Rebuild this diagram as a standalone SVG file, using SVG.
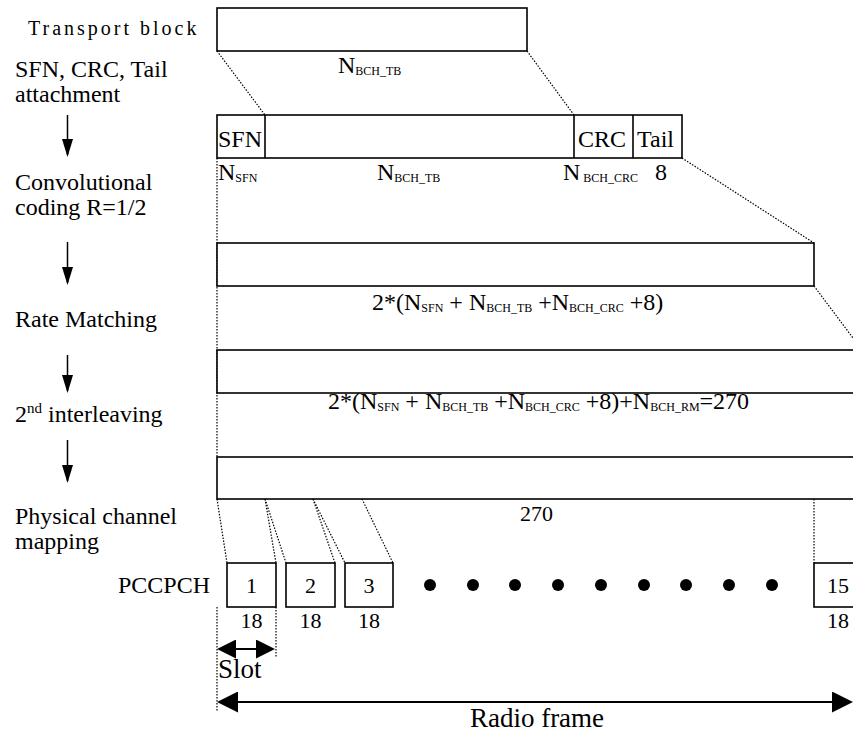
<svg xmlns="http://www.w3.org/2000/svg" width="853" height="735" viewBox="0 0 853 735" font-family="'Liberation Serif','Times New Roman',serif">
<style>
text{font-family:"Liberation Serif","Times New Roman",serif;font-size:24px;fill:#000}
.sub{font-size:12px}
.sm{font-size:22px}
.big{font-size:27px}
.box{fill:#fff;stroke:#000;stroke-width:1.6}
.dot{fill:none;stroke:#000;stroke-width:1.2;stroke-dasharray:1.5 1.5}
.arr{stroke:#000;stroke-width:1.5;fill:none}
.dbl{stroke:#000;stroke-width:2;fill:none}
</style>
<defs>
<marker id="down" markerUnits="userSpaceOnUse" markerWidth="18" markerHeight="11" refX="16" refY="5.5" orient="auto"><path d="M0,0 L18,5.5 L0,11 z" fill="#000"/></marker>
<marker id="hs" markerUnits="userSpaceOnUse" markerWidth="19" markerHeight="19" refX="17" refY="9.5" orient="auto-start-reverse"><path d="M0,0 L19,9.5 L0,19 z" fill="#000"/></marker>
<marker id="hl" markerUnits="userSpaceOnUse" markerWidth="21" markerHeight="21" refX="19" refY="10.5" orient="auto-start-reverse"><path d="M0,0 L21,10.5 L0,21 z" fill="#000"/></marker>
</defs>
<g id="connectors">
<line class="dot" x1="217" y1="51" x2="265" y2="115"/>
<line class="dot" x1="527" y1="51" x2="574" y2="115"/>
<line class="dot" x1="682" y1="158" x2="814" y2="243"/>
<line class="dot" x1="814" y1="286" x2="862" y2="350"/>
<line class="dot" x1="217" y1="158" x2="217" y2="457"/>
<line class="dot" x1="217" y1="499" x2="227" y2="563"/>
<line class="dot" x1="265" y1="499" x2="276" y2="563"/>
<line class="dot" x1="265" y1="499" x2="286" y2="563"/>
<line class="dot" x1="313" y1="499" x2="335" y2="563"/>
<line class="dot" x1="313" y1="499" x2="345" y2="563"/>
<line class="dot" x1="362" y1="499" x2="393" y2="563"/>
<line class="dot" x1="814" y1="499" x2="814" y2="563"/>
<line class="dot" x1="217" y1="607" x2="217" y2="712"/>
<line class="dot" x1="276" y1="607" x2="276" y2="658"/>
<line class="arr" x1="67.5" y1="115" x2="67.5" y2="155" marker-end="url(#down)"/>
<line class="arr" x1="67.5" y1="242" x2="67.5" y2="283" marker-end="url(#down)"/>
<line class="arr" x1="67.5" y1="355" x2="67.5" y2="391" marker-end="url(#down)"/>
<line class="arr" x1="67.5" y1="440" x2="67.5" y2="481" marker-end="url(#down)"/>
<line class="dbl" x1="219" y1="649" x2="273" y2="649" marker-start="url(#hs)" marker-end="url(#hs)"/>
<line class="dbl" x1="219" y1="702" x2="851" y2="702" marker-start="url(#hl)" marker-end="url(#hl)"/>
</g>
<g id="labels">
<text x="28" y="35" style="font-size:20px;letter-spacing:3px">Transport block</text>
<text x="15" y="77">SFN, CRC, Tail</text>
<text x="15" y="102">attachment</text>
<text x="15" y="190">Convolutional</text>
<text x="15" y="215">coding R=1/2</text>
<text x="15" y="327">Rate Matching</text>
<text x="15" y="422">2<tspan style="font-size:15px" dy="-9">nd</tspan><tspan dy="9"> interleaving</tspan></text>
<text x="15" y="524">Physical channel</text>
<text x="15" y="549">mapping</text>
<text x="118" y="593">PCCPCH</text>
</g>
<g id="transport-block">
<rect class="box" x="217" y="8" width="310" height="43"/>
<text x="338" y="73">N<tspan class="sub" dy="2">BCH_TB</tspan></text>
</g>
<g id="sfn-crc-tail">
<rect class="box" x="217" y="115" width="465" height="43"/>
<line class="box" x1="265" y1="115" x2="265" y2="158"/>
<line class="box" x1="574" y1="115" x2="574" y2="158"/>
<line class="box" x1="633" y1="115" x2="633" y2="158"/>
<text x="218" y="147">SFN</text>
<text x="578" y="147">CRC</text>
<text x="637" y="147">Tail</text>
<text x="218" y="180">N<tspan class="sub" dy="2">SFN</tspan></text>
<text x="377" y="180">N<tspan class="sub" dy="2">BCH_TB</tspan></text>
<text x="563" y="180">N<tspan class="sub" dy="2"> BCH_CRC</tspan></text>
<text x="655" y="180">8</text>
</g>
<g id="conv-coded">
<rect class="box" x="217" y="243" width="597" height="43"/>
<text x="372" y="310">2*(N<tspan class="sub" dy="2">SFN</tspan><tspan dy="-2"> + N</tspan><tspan class="sub" dy="2">BCH_TB</tspan><tspan dy="-2"> +N</tspan><tspan class="sub" dy="2">BCH_CRC</tspan><tspan dy="-2"> +8)</tspan></text>
</g>
<g id="rate-matched">
<rect class="box" x="217" y="350" width="660" height="43"/>
<text x="328" y="409">2*(N<tspan class="sub" dy="2">SFN</tspan><tspan dy="-2"> + N</tspan><tspan class="sub" dy="2">BCH_TB</tspan><tspan dy="-2"> +N</tspan><tspan class="sub" dy="2">BCH_CRC</tspan><tspan dy="-2"> +8)+N</tspan><tspan class="sub" dy="2">BCH_RM</tspan><tspan dy="-2">=270</tspan></text>
</g>
<g id="interleaved">
<rect class="box" x="217" y="457" width="660" height="42"/>
<text class="sm" x="520" y="521">270</text>
</g>
<g id="slot-1">
<rect class="box" x="227" y="563" width="49" height="44"/>
<text class="sm" x="251.5" y="593" text-anchor="middle">1</text>
<text class="sm" x="251.5" y="628" text-anchor="middle">18</text>
</g>
<g id="slot-2">
<rect class="box" x="286" y="563" width="49" height="44"/>
<text class="sm" x="310.5" y="593" text-anchor="middle">2</text>
<text class="sm" x="310.5" y="628" text-anchor="middle">18</text>
</g>
<g id="slot-3">
<rect class="box" x="345" y="563" width="48" height="44"/>
<text class="sm" x="369" y="593" text-anchor="middle">3</text>
<text class="sm" x="369" y="628" text-anchor="middle">18</text>
</g>
<g id="ellipsis">
<circle cx="430" cy="585" r="6"/>
<circle cx="473" cy="585" r="6"/>
<circle cx="515" cy="585" r="6"/>
<circle cx="558" cy="585" r="6"/>
<circle cx="601" cy="585" r="6"/>
<circle cx="644" cy="585" r="6"/>
<circle cx="686" cy="585" r="6"/>
<circle cx="729" cy="585" r="6"/>
<circle cx="772" cy="585" r="6"/>
</g>
<g id="slot-15">
<rect class="box" x="814" y="563" width="49" height="44"/>
<text class="sm" x="827" y="593">15</text>
<text class="sm" x="827" y="628">18</text>
</g>
<g id="frame-labels">
<text class="big" x="218" y="678">Slot</text>
<text class="big" x="537" y="727" text-anchor="middle">Radio frame</text>
</g>
</svg>
